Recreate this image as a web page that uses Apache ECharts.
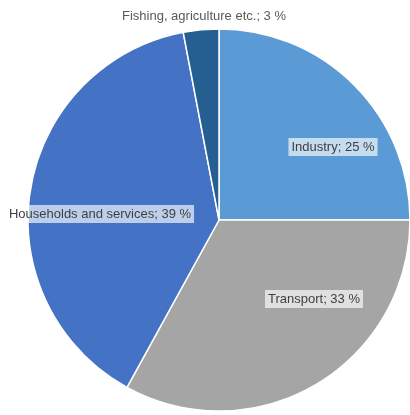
<!DOCTYPE html>
<html>
<head>
<meta charset="utf-8">
<script src="https://cdn.jsdelivr.net/npm/echarts@6/dist/echarts.min.js"></script>
<style>
  html, body { margin: 0; padding: 0; background: #fff; }
  #chart { width: 410px; height: 415px; }
</style>
</head>
<body>
<div id="chart"></div>
<script>
// Energy use by sector, share in percent
const sectors = ['Industry', 'Transport', 'Households and services', 'Fishing, agriculture etc.'];
const shares = [25, 33, 39, 3];
const colors = ['#5B9BD5', '#A5A5A5', '#4472C4', '#255E91'];

// Where each label sits on the canvas
const labelSpots = [
  [333, 147],
  [314, 299],
  [100, 214],
  [204, 16]
];

const chart = echarts.init(document.getElementById('chart'), null, { renderer: 'canvas' });

const boxedLabel = {
  show: true,
  position: 'inside',
  formatter: p => p.name + '; ' + p.value + ' %',
  color: '#404040',
  fontFamily: 'Liberation Sans, Arial, sans-serif',
  fontSize: 13,
  backgroundColor: 'rgba(255,255,255,0.65)',
  padding: [3, 3, 2, 3]
};

chart.setOption({
  animation: false,
  series: [{
    type: 'pie',
    center: [219, 220],
    radius: [0, 191],
    startAngle: 90,
    clockwise: true,
    avoidLabelOverlap: false,
    itemStyle: { borderColor: '#fff', borderWidth: 1.5 },
    label: boxedLabel,
    labelLine: { show: false },
    labelLayout: p => ({
      x: labelSpots[p.dataIndex][0],
      y: labelSpots[p.dataIndex][1],
      align: 'center',
      verticalAlign: 'middle'
    }),
    emphasis: { disabled: true },
    data: sectors.map((name, i) => ({
      name,
      value: shares[i],
      itemStyle: { color: colors[i] },
      label: i === 3 ? { backgroundColor: 'transparent', color: '#595959' } : {}
    }))
  }]
});
</script>
</body>
</html>
